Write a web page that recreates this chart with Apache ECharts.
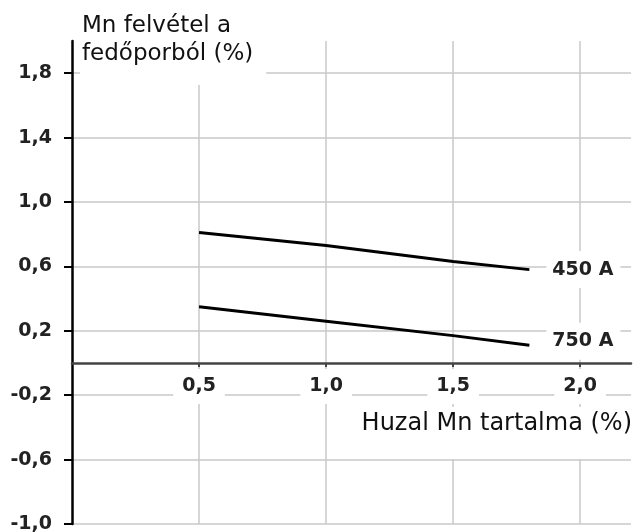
<!DOCTYPE html>
<html><head><meta charset="utf-8">
<script src="https://cdn.jsdelivr.net/npm/echarts@6/dist/echarts.min.js"></script>
<style>html,body{margin:0;padding:0;background:#fff}#c{width:633px;height:532px}</style>
</head><body><div id="c"></div>
<script>
// Data
const wireMn = [0.5, 1.0, 1.5, 1.8];          // Huzal Mn tartalma (%)
const uptake450 = [0.81, 0.73, 0.63, 0.58];   // 450 A
const uptake750 = [0.35, 0.26, 0.17, 0.11];   // 750 A
const seriesNames = ['450 A', '750 A'];
const yTitle = 'Mn felvétel a\nfedőporból (%)';
const xTitle = 'Huzal Mn tartalma (%)';
const xRange = [0, 2.2], xStep = 0.5;
const yRange = [-1.0, 2.0], yStep = 0.4;

const FONT = 'DejaVu Sans';
const GRID = {left: 72, right: 2, top: 41, bottom: 8};
const H = 532 - GRID.top - GRID.bottom;
const zeroOffset = Math.round(H * (0 - yRange[0]) / (yRange[1] - yRange[0]));

const fmt = v => v.toFixed(1).replace('.', ',');
const endLbl = (name, dy) => ({
  show: true, formatter: name, distance: 17, offset: [0, dy],
  fontFamily: FONT, fontWeight: 'bold', fontSize: 19, lineHeight: 19, color: '#222',
  backgroundColor: '#fff', padding: [9, 7, 9, 6]
});

const chart = echarts.init(document.getElementById('c'), null, {renderer: 'canvas'});
chart.setOption({
  animation: false,
  backgroundColor: '#fff',
  title: [
    {text: yTitle, left: 80, top: 8, padding: [4, 13, 17, 2], backgroundColor: '#fff',
     textStyle: {fontFamily: FONT, fontWeight: 'normal', fontSize: 23, lineHeight: 28, color: '#111'}},
    {text: xTitle, right: 0, top: 407, padding: [5, 1, 23, 7], backgroundColor: '#fff',
     textStyle: {fontFamily: FONT, fontWeight: 'normal', fontSize: 24, lineHeight: 24, color: '#111'}}
  ],
  grid: Object.assign({containLabel: false, outerBoundsMode: 'none'}, GRID),
  xAxis: {
    type: 'value', min: xRange[0], max: xRange[1], interval: xStep,
    position: 'bottom', offset: -zeroOffset,
    axisLine: {onZero: false, lineStyle: {color: '#444', width: 2.5}},
    axisTick: {show: true, length: 4, lineStyle: {color: '#444', width: 2}},
    axisLabel: {formatter: fmt, showMinLabel: false, showMaxLabel: false, margin: 6,
      fontFamily: FONT, fontWeight: 'bold', fontSize: 19, lineHeight: 19, color: '#222',
      backgroundColor: '#fff', padding: [8, 9, 8, 9]},
    splitLine: {show: true, showMinLine: false, showMaxLine: false, lineStyle: {color: '#c8c8c8', width: 1.5}}
  },
  yAxis: {
    type: 'value', min: yRange[0], max: yRange[1], interval: yStep,
    axisLine: {show: true, onZero: false, lineStyle: {color: '#000', width: 2.5}},
    axisTick: {show: true, length: 8, lineStyle: {color: '#000', width: 2}},
    axisLabel: {formatter: fmt, showMaxLabel: false, margin: 20,
      fontFamily: FONT, fontWeight: 'bold', fontSize: 19, color: '#222'},
    splitLine: {show: true, showMinLine: true, showMaxLine: false, lineStyle: {color: '#c8c8c8', width: 1.5}}
  },
  series: [
    {name: seriesNames[0], type: 'line', symbol: 'none', silent: true,
     data: wireMn.map((x, i) => [x, uptake450[i]]),
     lineStyle: {color: '#000', width: 3}, endLabel: endLbl(seriesNames[0], 0)},
    {name: seriesNames[1], type: 'line', symbol: 'none', silent: true,
     data: wireMn.map((x, i) => [x, uptake750[i]]),
     lineStyle: {color: '#000', width: 3}, endLabel: endLbl(seriesNames[1], -4)}
  ]
});
</script>
</body></html>
